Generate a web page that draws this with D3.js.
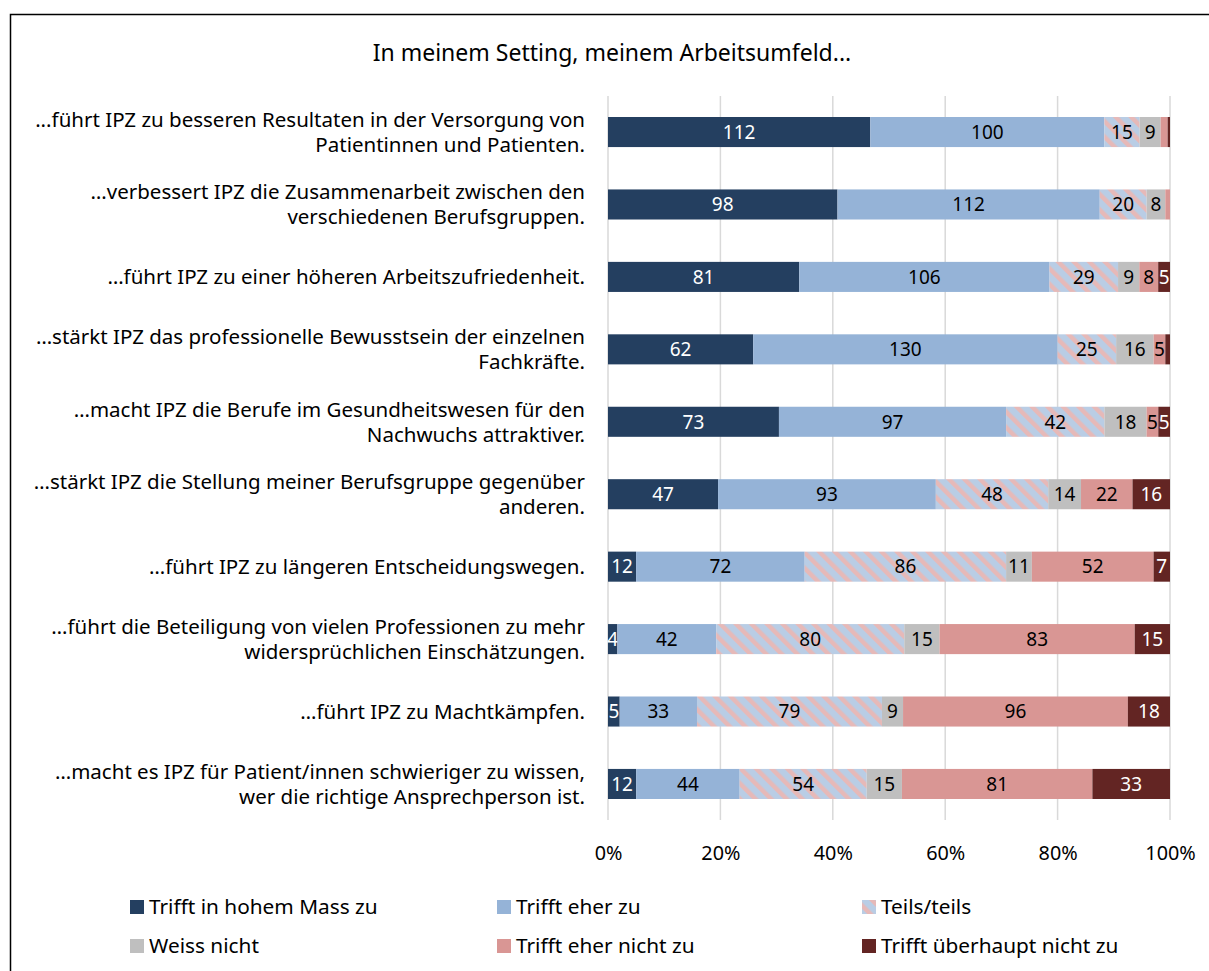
<!DOCTYPE html>
<html>
<head>
<meta charset="utf-8">
<script src="https://cdn.jsdelivr.net/npm/d3@7"></script>
<style>
  body { margin: 0; background: #fff; }
  svg { display: block; font-family: "Noto Sans", "Open Sans", sans-serif; }
</style>
</head>
<body>
<svg width="1209" height="971"></svg>
<script>
// questions, one line per array entry
var categories = [
    ['...führt IPZ zu besseren Resultaten in der Versorgung von', 'Patientinnen und Patienten.'],
    ['…verbessert IPZ die Zusammenarbeit zwischen den', 'verschiedenen Berufsgruppen.'],
    ['…führt IPZ zu einer höheren Arbeitszufriedenheit.'],
    ['…stärkt IPZ das professionelle Bewusstsein der einzelnen', 'Fachkräfte.'],
    ['…macht IPZ die Berufe im Gesundheitswesen für den', 'Nachwuchs attraktiver.'],
    ['…stärkt IPZ die Stellung meiner Berufsgruppe gegenüber', 'anderen.'],
    ['…führt IPZ zu längeren Entscheidungswegen.'],
    ['…führt die Beteiligung von vielen Professionen zu mehr', 'widersprüchlichen Einschätzungen.'],
    ['…führt IPZ zu Machtkämpfen.'],
    ['…macht es IPZ für Patient/innen schwieriger zu wissen,', 'wer die richtige Ansprechperson ist.']
]

var seriesNames = ['Trifft in hohem Mass zu', 'Trifft eher zu', 'Teils/teils',
    'Weiss nicht', 'Trifft eher nicht zu', 'Trifft überhaupt nicht zu']

var hohem    = [112, 98, 81, 62, 73, 47, 12, 4, 5, 12]
var eher     = [100, 112, 106, 130, 97, 93, 72, 42, 33, 44]
var teils    = [15, 20, 29, 25, 42, 48, 86, 80, 79, 54]
var weiss    = [9, 8, 9, 16, 18, 14, 11, 15, 9, 15]
var eherNich = [3, 2, 8, 5, 5, 22, 52, 83, 96, 81]
var garNicht = [1, 0, 5, 2, 5, 16, 7, 15, 18, 33]

var ticks = [0, 0.2, 0.4, 0.6, 0.8, 1]

var colors = ['#243F60', '#95B3D7', 'url(#teils)', '#BFBFBF', '#D99694', '#632523']
var labelColors = ['#fff', '#000', '#000', '#000', '#000', '#fff']

var svg = d3.select('svg')

var defs = svg.append('defs')
var pat = defs.append('pattern')
    .attr('id', 'teils')
    .attr('patternUnits', 'userSpaceOnUse')
    .attr('width', 11)
    .attr('height', 11)
    .attr('patternTransform', 'rotate(-45)')
pat.append('rect').attr('width', 11).attr('height', 11).attr('fill', '#B9CDE5')
pat.append('rect').attr('width', 4.5).attr('height', 11).attr('fill', '#E6B9B8')

// outer frame
svg.append('rect')
    .attr('x', 10.5).attr('y', 14.5)
    .attr('width', 1220).attr('height', 1000)
    .attr('fill', 'none')
    .attr('stroke', '#000')
    .attr('stroke-width', 1.5)

svg.append('text')
    .attr('x', 612).attr('y', 61)
    .attr('text-anchor', 'middle')
    .style('font-size', '23px')
    .text('In meinem Setting, meinem Arbeitsumfeld...')

var x = d3.scaleLinear().domain([0, 1]).range([608, 1170])
var y = d3.scaleBand().domain(d3.range(categories.length)).range([96, 820]).paddingInner(0.585).paddingOuter(0.29)

// gridlines
svg.append('g')
    .selectAll('line')
    .data(ticks)
    .join('line')
    .attr('x1', d => x(d)).attr('x2', d => x(d))
    .attr('y1', 96).attr('y2', 820)
    .style('stroke', '#D9D9D9')
    .style('stroke-width', 1.5)

var xAxis = svg.append('g')
    .attr('transform', 'translate(0,843)')
    .call(d3.axisBottom(x).tickValues(ticks).tickFormat(d3.format('.0%')).tickSize(0))
xAxis.select('.domain').remove()
xAxis.selectAll('text')
    .style('font-family', '"Noto Sans", "Open Sans", sans-serif')
    .style('font-size', '19.8px')
    .attr('fill', '#000')

// stack the series into proportions
var rows = categories.map((c, i) => {
    var vals = [hohem[i], eher[i], teils[i], weiss[i], eherNich[i], garNicht[i]]
    var total = d3.sum(vals)
    var r = { i: i }
    vals.forEach((v, k) => r[k] = v / total)
    r.raw = vals
    return r
})

var stack = d3.stack().keys(d3.range(seriesNames.length))
var layers = stack(rows)

var g = svg.append('g')
layers.forEach((layer, k) => {
    var gl = g.append('g')
    gl.selectAll('rect')
        .data(layer)
        .join('rect')
        .attr('x', d => x(d[0]))
        .attr('y', d => y(d.data.i))
        .attr('width', d => x(d[1]) - x(d[0]))
        .attr('height', y.bandwidth())
        .attr('fill', colors[k])
    gl.selectAll('text')
        .data(layer.filter(d => d.data.raw[k] >= 4))
        .join('text')
        .attr('x', d => (x(d[0]) + x(d[1])) / 2)
        .attr('y', d => y(d.data.i) + y.bandwidth() / 2)
        .attr('dy', '0.36em')
        .attr('text-anchor', 'middle')
        .attr('fill', labelColors[k])
        .style('font-size', '19px')
        .text(d => d.data.raw[k])
})

// category labels
var cat = svg.append('g')
categories.forEach((lines, i) => {
    var cy = y(i) + y.bandwidth() / 2
    lines.forEach((line, j) => {
        cat.append('text')
            .attr('x', 585)
            .attr('y', cy + (j - (lines.length - 1) / 2) * 25)
            .attr('dy', '0.36em')
            .attr('text-anchor', 'end')
            .style('font-size', '20.5px')
            .text(line)
    })
})

// legend
var legX = [130, 497, 862], legY = [907, 946]
var leg = svg.append('g')
seriesNames.forEach((name, k) => {
    var lx = legX[k % 3], ly = legY[Math.floor(k / 3)]
    leg.append('rect')
        .attr('x', lx).attr('y', ly - 7)
        .attr('width', 14).attr('height', 14)
        .attr('fill', colors[k])
    leg.append('text')
        .attr('x', lx + 19).attr('y', ly)
        .attr('dy', '0.36em')
        .style('font-size', '20.8px')
        .text(name)
})
</script>
</body>
</html>
